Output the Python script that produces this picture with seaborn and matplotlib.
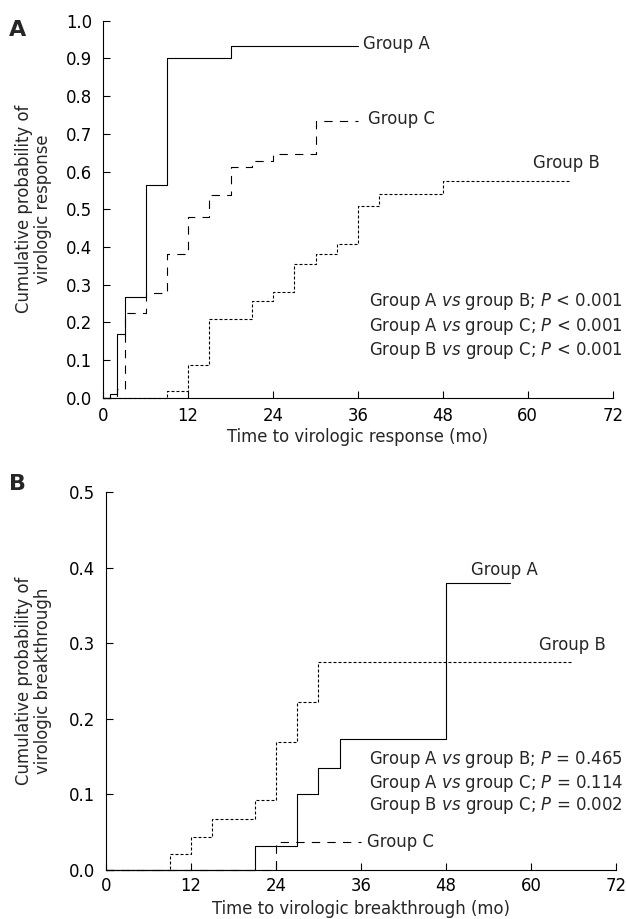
import matplotlib
matplotlib.use("Agg")
import matplotlib.pyplot as plt
import numpy as np
import pandas as pd
import seaborn as sns

# Panel A: time to virologic response (months) / cumulative probability
resp_a_t = [0, 1, 2, 3, 6, 9, 18, 36]
resp_a_p = [0, 0.01, 0.17, 0.268, 0.565, 0.90, 0.932, 0.932]
resp_b_t = [0, 9, 12, 15, 21, 24, 27, 30, 33, 36, 39, 48, 66]
resp_b_p = [0, 0.018, 0.086, 0.208, 0.256, 0.281, 0.355, 0.38, 0.407, 0.509, 0.54, 0.576, 0.576]
resp_c_t = [0, 2, 3, 6, 9, 12, 15, 18, 21, 24, 30, 36]
resp_c_p = [0, 0.024, 0.225, 0.277, 0.38, 0.48, 0.538, 0.613, 0.627, 0.646, 0.734, 0.734]

# Panel B: time to virologic breakthrough
brk_a_t = [0, 21, 27, 30, 33, 48, 57]
brk_a_p = [0, 0.032, 0.1, 0.135, 0.174, 0.38, 0.38]
brk_b_t = [0, 9, 12, 15, 21, 24, 27, 30, 66]
brk_b_p = [0, 0.021, 0.044, 0.068, 0.093, 0.17, 0.223, 0.275, 0.275]
brk_c_t = [0, 24, 36]
brk_c_p = [0, 0.0375, 0.0375]

stats_a = ["Group A $\\mathit{vs}$ group B; $\\mathit{P}$ < 0.001",
           "Group A $\\mathit{vs}$ group C; $\\mathit{P}$ < 0.001",
           "Group B $\\mathit{vs}$ group C; $\\mathit{P}$ < 0.001"]
stats_b = ["Group A $\\mathit{vs}$ group B; $\\mathit{P}$ = 0.465",
           "Group A $\\mathit{vs}$ group C; $\\mathit{P}$ = 0.114",
           "Group B $\\mathit{vs}$ group C; $\\mathit{P}$ = 0.002"]

sns.set_style("ticks")
plt.rcParams['font.family'] = ['DejaVu Sans']
plt.rcParams['mathtext.fontset'] = 'dejavusans'
FS = 11.9

styles = {
    'A': dict(linestyle='-', color='black'),
    'B': dict(linestyle=(0, (2.7, 1.8)), color='black'),
    'C': dict(linestyle=(0, (7.5, 6.5)), color='black'),
}

fig = plt.figure(figsize=(6.26, 9.19), dpi=100)
axA = fig.add_axes([0.165, 0.5672, 0.8137, 0.4102])
axB = fig.add_axes([0.1693, 0.0533, 0.8147, 0.411])


def draw(ax, curves):
    for g, (t, p) in curves.items():
        df = pd.DataFrame({'t': t, 'p': p})
        sns.lineplot(data=df, x='t', y='p', ax=ax, estimator=None, sort=False,
                     drawstyle='steps-post', linewidth=0.8, clip_on=False,
                     **styles[g])


def style_axes(ax, ymax, ylabel, xlabel, ylab_x, xpad):
    ax.set_xlim(0, 72)
    ax.set_ylim(0, ymax)
    ax.set_xticks(np.arange(0, 73, 12))
    ax.set_yticks(np.round(np.arange(0, ymax + 0.001, 0.1), 1))
    ax.set_yticklabels([f"{v:.1f}" for v in np.arange(0, ymax + 0.001, 0.1)])
    ax.tick_params(direction='in', length=5, width=0.8, labelsize=FS, colors='black')
    ax.tick_params(axis='y', pad=8)
    ax.tick_params(axis='x', pad=xpad)
    for s in ['top', 'right']:
        ax.spines[s].set_visible(False)
    for s in ['left', 'bottom']:
        ax.spines[s].set_linewidth(0.8)
        ax.spines[s].set_color('black')
    ax.set_ylabel(ylabel, fontsize=FS, linespacing=1.1)
    ax.set_xlabel(xlabel, fontsize=FS)
    ax.yaxis.set_label_coords(ylab_x, 0.5)
    ax.xaxis.set_label_coords(0.5, -0.08)


draw(axA, {'A': (resp_a_t, resp_a_p), 'C': (resp_c_t, resp_c_p), 'B': (resp_b_t, resp_b_p)})
style_axes(axA, 1.0, "Cumulative probability of\nvirologic response",
           "Time to virologic response (mo)", -0.10, 6.5)
axA.text(36.7, 0.938, "Group A", fontsize=FS, va='center')
axA.text(37.4, 0.739, "Group C", fontsize=FS, va='center')
axA.text(60.7, 0.622, "Group B", fontsize=FS, va='center')
for y, s in zip([0.255, 0.19, 0.126], stats_a):
    axA.text(37.5, y, s, fontsize=FS, va='center')

draw(axB, {'A': (brk_a_t, brk_a_p), 'B': (brk_b_t, brk_b_p), 'C': (brk_c_t, brk_c_p)})
style_axes(axB, 0.5, "Cumulative probability of\nvirologic breakthrough",
           "Time to virologic breakthrough (mo)", -0.106, 5)
axB.text(51.6, 0.397, "Group A", fontsize=FS, va='center')
axB.text(61.1, 0.298, "Group B", fontsize=FS, va='center')
axB.text(36.8, 0.0375, "Group C", fontsize=FS, va='center')
for y, s in zip([0.1457, 0.1148, 0.085], stats_b):
    axB.text(37.2, y, s, fontsize=FS, va='center')

fig.text(9 / 626, 1 - 30 / 919, "A", fontsize=16, fontweight='bold', va='center')
fig.text(9 / 626, 1 - 484 / 919, "B", fontsize=16, fontweight='bold', va='center')

fig.savefig("out.png", dpi=100)
